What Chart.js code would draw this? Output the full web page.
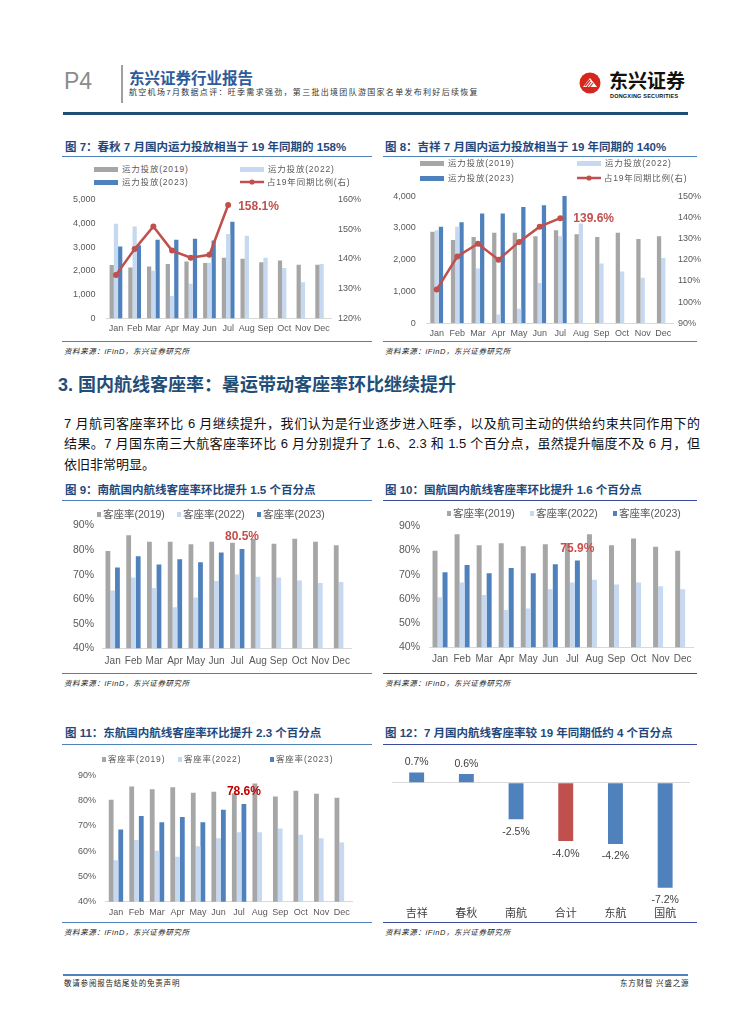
<!DOCTYPE html>
<html lang="zh-CN">
<head>
<meta charset="UTF-8">
<title>航空机场7月数据点评</title>
<style>
  body { margin:0; width:755px; height:1024px; position:relative; background:#fff; overflow:hidden;
         font-family:"Liberation Sans","Noto Sans CJK SC",sans-serif; }
  .abs { position:absolute; white-space:nowrap; }
  canvas { position:absolute; }
  .ftitle { position:absolute; white-space:nowrap; font-size:11.5px; font-weight:bold; color:#1f497d; line-height:14px; }
  .hl { position:absolute; height:0; border-top:1.5px solid #4f81bd; }
  .hl.navy { border-top-color:#3d4b9f; }
  .src { position:absolute; white-space:nowrap; font-size:7.5px; font-style:italic; color:#222; line-height:10px; letter-spacing:0.6px; }
  .lg { position:absolute; white-space:nowrap; font-size:8.5px; color:#595959; letter-spacing:0.8px; line-height:10px; display:flex; align-items:center; z-index:2; }
  .sw { display:inline-block; width:24px; height:5px; margin-right:4px; }
  .sq { display:inline-block; width:4px; height:5px; margin-right:2px; }
  .para { position:absolute; left:64px; width:636px; font-size:13px; color:#111; line-height:16px;
          text-align:justify; text-align-last:justify; white-space:nowrap; }
</style>
</head>
<body>

<!-- header -->
<div class="abs" style="left:64px;top:68px;font-size:23px;color:#8c8c8c;line-height:26px;">P4</div>
<div class="abs" style="left:121px;top:65px;width:1.5px;height:38px;background:#a0a0a0;"></div>
<div class="abs" style="left:129px;top:70px;font-size:15.5px;font-weight:bold;color:#2e5b9a;line-height:18px;">东兴证券行业报告</div>
<div class="abs" style="left:129px;top:88px;font-size:8px;color:#333;letter-spacing:1.3px;line-height:10px;">航空机场7月数据点评：旺季需求强劲，第三批出境团队游国家名单发布利好后续恢复</div>
<svg class="abs" style="left:579px;top:72px;" width="22" height="22" viewBox="0 0 22 22">
  <circle cx="11" cy="11" r="10.5" fill="#d7261e"/>
  <path d="M4 15 L11 6 L18 15 Z" fill="#fff"/>
  <path d="M6 14 L11 8 M8 15 L12 10 M10 16 L14 11" stroke="#d7261e" stroke-width="1.2"/>
</svg>
<div class="abs" style="left:609px;top:71px;font-size:19px;font-weight:bold;color:#111;line-height:21px;">东兴证券</div>
<div class="abs" style="left:610px;top:93px;font-size:5.5px;font-weight:bold;color:#111;line-height:6px;letter-spacing:0.2px;">DONGXING SECURITIES</div>
<div class="abs" style="left:63px;top:112px;width:625px;height:3px;background:#1f4e79;"></div>

<!-- figure titles and rules -->
<div class="ftitle" style="left:65px;top:140px;">图 7：春秋 7 月国内运力投放相当于 19 年同期的 158%</div>
<div class="hl" style="left:62px;top:156px;width:310px;"></div>
<div class="ftitle" style="left:385px;top:140px;">图 8：吉祥 7 月国内运力投放相当于 19 年同期的 140%</div>
<div class="hl" style="left:383px;top:156px;width:314px;"></div>
<div class="hl" style="left:62px;top:341px;width:310px;"></div>
<div class="hl" style="left:383px;top:341px;width:314px;"></div>
<div class="src" style="left:64px;top:347px;">资料来源：iFinD，东兴证券研究所</div>
<div class="src" style="left:385px;top:347px;">资料来源：iFinD，东兴证券研究所</div>

<div class="abs" style="left:58px;top:374px;font-size:18px;font-weight:bold;color:#1f4e79;line-height:22px;">3. 国内航线客座率：暑运带动客座率环比继续提升</div>
<div class="para" style="top:416px;">7 月航司客座率环比 6 月继续提升，我们认为是行业逐步进入旺季，以及航司主动的供给约束共同作用下的</div>
<div class="para" style="top:436px;">结果。7 月国东南三大航客座率环比 6 月分别提升了 1.6、2.3 和 1.5 个百分点，虽然提升幅度不及 6 月，但</div>
<div class="para" style="top:457px;text-align-last:left;">依旧非常明显。</div>

<div class="ftitle" style="left:65px;top:483px;">图 9：南航国内航线客座率环比提升 1.5 个百分点</div>
<div class="hl" style="left:62px;top:500px;width:310px;"></div>
<div class="ftitle" style="left:385px;top:483px;">图 10：国航国内航线客座率环比提升 1.6 个百分点</div>
<div class="hl navy" style="left:383px;top:500px;width:314px;"></div>
<div class="hl" style="left:62px;top:673px;width:310px;"></div>
<div class="hl navy" style="left:383px;top:673px;width:314px;"></div>
<div class="src" style="left:64px;top:679px;">资料来源：iFinD，东兴证券研究所</div>
<div class="src" style="left:385px;top:679px;">资料来源：iFinD，东兴证券研究所</div>

<div class="ftitle" style="left:65px;top:726px;">图 11：东航国内航线客座率环比提升 2.3 个百分点</div>
<div class="hl" style="left:62px;top:744px;width:310px;"></div>
<div class="ftitle" style="left:385px;top:726px;">图 12：7 月国内航线客座率较 19 年同期低约 4 个百分点</div>
<div class="hl navy" style="left:383px;top:744px;width:314px;"></div>
<div class="hl" style="left:62px;top:922px;width:310px;"></div>
<div class="hl navy" style="left:383px;top:922px;width:314px;"></div>
<div class="src" style="left:64px;top:928px;">资料来源：iFinD，东兴证券研究所</div>
<div class="src" style="left:385px;top:928px;">资料来源：iFinD，东兴证券研究所</div>

<!-- footer -->
<div class="abs" style="left:63px;top:974px;width:625px;height:2px;background:#4f81bd;"></div>
<div class="abs" style="left:64px;top:979px;font-size:7.5px;color:#222;letter-spacing:0.8px;line-height:9px;">敬请参阅报告结尾处的免责声明</div>
<div class="abs" style="left:620px;top:979px;width:68px;text-align:right;font-size:7.5px;color:#222;letter-spacing:0.8px;line-height:9px;">东方财智 兴盛之源</div>

<!-- legends -->
<div class="lg" style="left:94px;top:164px;"><span class="sw" style="background:#a6a6a6"></span>运力投放(2019)</div>
<div class="lg" style="left:240px;top:164px;"><span class="sw" style="background:#c6d9f0"></span>运力投放(2022)</div>
<div class="lg" style="left:94px;top:177px;"><span class="sw" style="background:#4f81bd"></span>运力投放(2023)</div>
<div class="lg" style="left:240px;top:177px;"><svg width="24" height="6" style="margin-right:3px"><line x1="0" y1="3" x2="24" y2="3" stroke="#c0504d" stroke-width="2.5"/><circle cx="12" cy="3" r="2.6" fill="#c0504d"/></svg>占19年同期比例(右)</div>

<div class="lg" style="left:420px;top:158px;"><span class="sw" style="background:#a6a6a6"></span>运力投放(2019)</div>
<div class="lg" style="left:577px;top:158px;"><span class="sw" style="background:#c6d9f0"></span>运力投放(2022)</div>
<div class="lg" style="left:420px;top:173px;"><span class="sw" style="background:#4f81bd"></span>运力投放(2023)</div>
<div class="lg" style="left:577px;top:173px;"><svg width="24" height="6" style="margin-right:3px"><line x1="0" y1="3" x2="24" y2="3" stroke="#c0504d" stroke-width="2.5"/><circle cx="12" cy="3" r="2.6" fill="#c0504d"/></svg>占19年同期比例(右)</div>

<div class="lg" style="left:97px;top:508px;font-size:10.5px;letter-spacing:0;line-height:12px;"><span class="sq" style="background:#a6a6a6"></span>客座率(2019)</div>
<div class="lg" style="left:177px;top:508px;font-size:10.5px;letter-spacing:0;line-height:12px;"><span class="sq" style="background:#c6d9f0"></span>客座率(2022)</div>
<div class="lg" style="left:257px;top:508px;font-size:10.5px;letter-spacing:0;line-height:12px;"><span class="sq" style="background:#4f81bd"></span>客座率(2023)</div>

<div class="lg" style="left:447px;top:507px;font-size:10.5px;letter-spacing:0;line-height:12px;"><span class="sq" style="background:#a6a6a6"></span>客座率(2019)</div>
<div class="lg" style="left:530px;top:507px;font-size:10.5px;letter-spacing:0;line-height:12px;"><span class="sq" style="background:#c6d9f0"></span>客座率(2022)</div>
<div class="lg" style="left:613px;top:507px;font-size:10.5px;letter-spacing:0;line-height:12px;"><span class="sq" style="background:#4f81bd"></span>客座率(2023)</div>

<div class="lg" style="left:102px;top:754px;"><span class="sq" style="background:#a6a6a6"></span>客座率(2019)</div>
<div class="lg" style="left:178px;top:754px;"><span class="sq" style="background:#c6d9f0"></span>客座率(2022)</div>
<div class="lg" style="left:270px;top:754px;"><span class="sq" style="background:#4f81bd"></span>客座率(2023)</div>

<canvas id="c7" width="315" height="162" style="left:60px;top:183px;"></canvas>
<canvas id="c8" width="325" height="165" style="left:380px;top:180px;"></canvas>
<canvas id="c9" width="305" height="164" style="left:60px;top:511px;"></canvas>
<canvas id="c10" width="325" height="164" style="left:380px;top:511px;"></canvas>
<canvas id="c11" width="305" height="160" style="left:60px;top:760px;"></canvas>
<canvas id="c12" width="320" height="172" style="left:380px;top:750px;"></canvas>

<script src="https://cdn.jsdelivr.net/npm/chart.js"></script>
<script>
const months = ['Jan','Feb','Mar','Apr','May','Jun','Jul','Aug','Sep','Oct','Nov','Dec'];

// 图7 春秋 国内运力投放 (2019 / 2022 / 2023) 及占19年同期比例
const springCap2019 = [2250,2140,2180,2290,2390,2330,2550,2510,2360,2430,2260,2260];
const springCap2022 = [3980,3860,2000,940,1460,2340,3550,3470,2550,2120,1520,2290];
const springCap2023 = [3020,3070,3310,3310,3350,3270,4060];
const springRatio   = [134.6,143.3,150.9,142.8,140.4,141.4,158.1];

// 图8 吉祥
const juneyaoCap2019 = [2880,2620,2710,2850,2850,2740,2930,2800,2710,2850,2650,2740];
const juneyaoCap2022 = [2930,3040,1720,280,460,1270,2740,3140,1880,1630,1430,2050];
const juneyaoCap2023 = [3040,3180,3450,3450,3660,3710,4020];
const juneyaoRatio   = [105.9,121.5,127.5,120.0,128.4,135.6,139.6];

// 图9 南航 客座率
const csLf2019 = [79.7,86.1,83.4,83.4,82.4,83.4,83.0,84.6,82.6,84.6,83.4,82.0];
const csLf2022 = [63.6,68.9,64.6,56.7,60.7,67.4,70.1,69.2,68.9,67.6,66.6,67.0];
const csLf2023 = [72.9,77.5,74.1,76.3,75.1,79.0,80.5];

// 图10 国航 客座率
const caLf2019 = [79.9,86.7,82.2,83.0,81.8,82.6,83.1,86.7,82.2,85.0,81.5,79.9];
const caLf2022 = [60.7,66.8,61.6,55.4,56.0,64.0,66.8,67.9,66.0,66.8,65.2,64.0];
const caLf2023 = [71.0,74.0,70.6,72.8,70.6,74.3,75.9];

// 图11 东航 客座率
const ceLf2019 = [80.3,85.5,84.4,85.2,83.0,83.4,82.8,86.7,81.5,83.8,82.6,81.1];
const ceLf2022 = [56.4,64.4,60.1,57.8,61.9,65.1,67.4,67.4,68.9,66.4,65.1,63.4];
const ceLf2023 = [68.5,73.8,71.4,73.5,71.4,76.3,78.6];

// 图12 7月客座率较19年同期变化(百分点)
const julyAirlines = ['吉祥','春秋','南航','合计','东航','国航'];
const julyVs2019   = [0.7,0.6,-2.5,-4.0,-4.2,-7.2];

const C19 = '#a6a6a6', C22 = '#c6d9f0', C23 = '#4f81bd', RED = '#c0504d';
const FONT = '"Liberation Sans","Noto Sans CJK SC",sans-serif';
const TICK = '#595959';

Chart.defaults.font.family = FONT;
Chart.defaults.animation = false;
Chart.defaults.responsive = false;
Chart.defaults.plugins.legend.display = false;
Chart.defaults.plugins.tooltip.enabled = false;

// draws a value label next to one point of one dataset
function pointLabel(ds, idx, text, color, dx, dy, align) {
  return {
    id: 'pointLabel',
    afterDatasetsDraw(chart) {
      const el = chart.getDatasetMeta(ds).data[idx];
      const ctx = chart.ctx;
      ctx.save();
      ctx.font = 'bold 12px ' + FONT;
      ctx.fillStyle = color;
      ctx.textAlign = align;
      ctx.textBaseline = 'middle';
      ctx.fillText(text, el.x + dx, el.y + dy);
      ctx.restore();
    }
  };
}

function xAxis(h, pad, size) {
  return {
    border: { color: '#d9d9d9' },
    grid: { display: false, drawTicks: false },
    ticks: { padding: pad, color: TICK, font: { size: size }, autoSkip: false, maxRotation: 0 },
    afterFit: s => { s.height = h; }
  };
}

function yAxis(pos, w, pad, size, min, max, step, fmt) {
  return {
    position: pos, min: min, max: max,
    border: { display: false },
    grid: { display: false, drawTicks: false },
    ticks: { stepSize: step, padding: pad, color: TICK, font: { size: size }, callback: fmt },
    afterFit: s => { s.width = w; }
  };
}

const pct = v => v + '%';
const thousands = v => v.toLocaleString('en-US');

function barSets(d19, d22, d23, cat) {
  return [
    { type: 'bar', label: '2019', data: d19, backgroundColor: C19, categoryPercentage: cat, barPercentage: 1, order: 2 },
    { type: 'bar', label: '2022', data: d22, backgroundColor: C22, categoryPercentage: cat, barPercentage: 1, order: 2 },
    { type: 'bar', label: '2023', data: d23, backgroundColor: C23, categoryPercentage: cat, barPercentage: 1, order: 2 }
  ];
}

function ratioLine(data) {
  return { type: 'line', label: '占19年同期比例(右)', data: data, yAxisID: 'y1', borderColor: RED, backgroundColor: RED,
           borderWidth: 2.5, pointRadius: 3, pointBackgroundColor: RED, pointBorderWidth: 0, order: 0 };
}

// 图7
new Chart(document.getElementById('c7'), {
  data: { labels: months, datasets: [...barSets(springCap2019, springCap2022, springCap2023, 0.68), ratioLine(springRatio)] },
  options: {
    layout: { padding: { top: 10, right: 0, left: 0, bottom: 0 } },
    scales: {
      x: xAxis(26.5, 4.8, 9),
      y: yAxis('left', 46.6, 11, 9, 0, 5000, 1000, thousands),
      y1: yAxis('right', 44, 7, 9, 120, 160, 10, pct)
    }
  },
  plugins: [pointLabel(3, 6, springRatio[6].toFixed(1) + '%', RED, 10, 2, 'left')]
});

// 图8
new Chart(document.getElementById('c8'), {
  data: { labels: months, datasets: [...barSets(juneyaoCap2019, juneyaoCap2022, juneyaoCap2023, 0.62), ratioLine(juneyaoRatio)] },
  options: {
    layout: { padding: { top: 10, right: 0, left: 0, bottom: 0 } },
    scales: {
      x: xAxis(21.7, 5, 9),
      y: yAxis('left', 46.4, 10.7, 9, 0, 4000, 1000, thousands),
      y1: yAxis('right', 31.4, 4.4, 9, 90, 150, 10, pct)
    }
  },
  plugins: [pointLabel(3, 6, juneyaoRatio[6].toFixed(1) + '%', RED, 13, 1, 'left')]
});

// 图9 ~ 图11
function loadFactorChart(id, d19, d22, d23, geo, labelColor) {
  new Chart(document.getElementById(id), {
    data: { labels: months, datasets: barSets(d19, d22, d23, geo.cat) },
    options: {
      layout: { padding: { top: geo.top, right: geo.right, left: 0, bottom: 0 } },
      scales: {
        x: xAxis(geo.xh, geo.xpad, geo.xsize),
        y: yAxis('left', geo.yw, geo.ypad, geo.ysize, 40, 90, 10, pct)
      }
    },
    plugins: [pointLabel(2, 6, d23[6].toFixed(1) + '%', labelColor, 0, -12, 'center')]
  });
}

loadFactorChart('c9', csLf2019, csLf2022, csLf2023,
  { cat: 0.69, top: 10.7, right: 13.6, xh: 26.7, xpad: 6.8, xsize: 10, yw: 42.3, ypad: 8.3, ysize: 10.5 }, RED);
loadFactorChart('c10', caLf2019, caLf2022, caLf2023,
  { cat: 0.68, top: 10.7, right: 11.3, xh: 27.7, xpad: 6.1, xsize: 10, yw: 49, ypad: 9, ysize: 10.5 }, '#c8504d');
loadFactorChart('c11', ceLf2019, ceLf2022, ceLf2023,
  { cat: 0.70, top: 10.7, right: 13, xh: 18.3, xpad: 5.3, xsize: 9, yw: 45.7, ypad: 9.7, ysize: 9 }, '#c00000');

// 图12
new Chart(document.getElementById('c12'), {
  type: 'bar',
  data: {
    labels: julyAirlines,
    datasets: [{
      data: julyVs2019,
      backgroundColor: julyAirlines.map(n => n === '合计' ? RED : C23),
      categoryPercentage: 0.3, barPercentage: 1
    }]
  },
  options: {
    layout: { padding: { top: 10.8, right: 10, left: 0, bottom: 0 } },
    scales: {
      x: {
        border: { display: false },
        grid: { display: false, drawTicks: false },
        ticks: { padding: 3.2, color: '#404040', font: { size: 11 } },
        afterFit: s => { s.height = 18.1; }
      },
      y: {
        min: -8.3, max: 1.5,
        border: { display: false },
        grid: { drawTicks: false, color: c => c.tick.value === 0 ? '#d9d9d9' : 'rgba(0,0,0,0)' },
        ticks: { display: false, stepSize: 1 },
        afterFit: s => { s.width = 11.8; }
      }
    }
  },
  plugins: [{
    id: 'valueLabels',
    afterDatasetsDraw(chart) {
      const ctx = chart.ctx;
      ctx.save();
      ctx.font = '10.5px ' + FONT;
      ctx.fillStyle = '#404040';
      ctx.textAlign = 'center';
      ctx.textBaseline = 'middle';
      chart.getDatasetMeta(0).data.forEach((bar, i) => {
        const v = julyVs2019[i];
        ctx.fillText(v.toFixed(1) + '%', bar.x, v >= 0 ? bar.y - 10 : bar.y + 12.5);
      });
      ctx.restore();
    }
  }]
});
</script>
</body>
</html>
